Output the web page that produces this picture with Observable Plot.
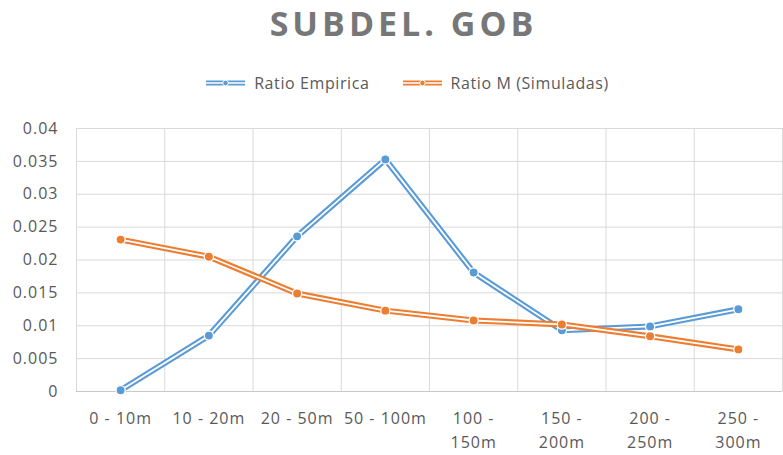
<!DOCTYPE html>
<html>
<head>
<meta charset="utf-8">
<script src="https://cdn.jsdelivr.net/npm/d3@7"></script>
<script src="https://cdn.jsdelivr.net/npm/@observablehq/plot@0.6"></script>
<style>
  body { margin: 0; background: #fff; font-family: "Open Sans", sans-serif; }
  #wrap { position: relative; width: 783px; height: 455px; overflow: hidden; }
  #title { position: absolute; top: 1px; left: 0; width: 783px; padding-left: 24px; box-sizing: border-box; text-align: center;
    font-size: 34px; font-weight: 700; letter-spacing: 4px; color: #777777; line-height: 44px; }
  #legend { position: absolute; top: 71px; left: 0; width: 783px; padding-left: 30px; box-sizing: border-box; display: flex; justify-content: center;
    gap: 31px; font-size: 16px; letter-spacing: 0.6px; color: #595959; line-height: 24px; }
  #legend .item { display: flex; align-items: center; gap: 7px; }
  #chart { position: absolute; top: 110px; left: 0; }
</style>
</head>
<body>
<div id="wrap">
  <div id="title">SUBDEL. GOB</div>
  <div id="legend"></div>
  <div id="chart"></div>
</div>
<script>
const categories = ["0 - 10m", "10 - 20m", "20 - 50m", "50 - 100m", "100 -\n150m", "150 -\n200m", "200 -\n250m", "250 -\n300m"];
const seriesNames = ["Ratio Empirica", "Ratio M (Simuladas)"];
const ratioEmpirica = [0.0002, 0.0085, 0.0236, 0.0353, 0.0181, 0.0093, 0.0099, 0.0125];
const ratioSimuladas = [0.0231, 0.0205, 0.0149, 0.0123, 0.0108, 0.0102, 0.0084, 0.0064];
const yTicks = [0, 0.005, 0.01, 0.015, 0.02, 0.025, 0.03, 0.035, 0.04];
const colors = ["#5B9BD5", "#ED7D31"];

const series = [ratioEmpirica, ratioSimuladas].map((vals, s) =>
  vals.map((v, i) => ({i, v, name: seriesNames[s]})));
const boundaries = d3.range(categories.length + 1).map(i => i - 0.5);

// Legend
const legend = document.getElementById("legend");
seriesNames.forEach((name, s) => {
  const item = document.createElement("div");
  item.className = "item";
  item.innerHTML = `<svg width="43" height="10"><line x1="2" x2="41" y1="5" y2="5" stroke="${colors[s]}" stroke-width="5"/><line x1="2" x2="41" y1="5" y2="5" stroke="#fff" stroke-width="1.6"/><circle cx="21.5" cy="5" r="2.8" fill="${colors[s]}" stroke="#fff" stroke-width="1"/></svg><span>${name}</span>`;
  legend.appendChild(item);
});

const marks = [
  Plot.gridY(yTicks, {stroke: "#d9d9d9", strokeOpacity: 1}),
  Plot.gridX(boundaries, {stroke: "#d9d9d9", strokeOpacity: 1}),
  Plot.ruleY([0], {stroke: "#c8c8c8"}),
  Plot.axisY(yTicks, {tickSize: 0, tickPadding: 18, tickFormat: d3.format("~g"), label: null}),
  Plot.axisX(d3.range(categories.length), {tickSize: 0, tickPadding: 15, tickFormat: i => categories[i], label: null, lineHeight: 1.5})
];
series.forEach((data, s) => {
  marks.push(Plot.line(data, {x: "i", y: "v", stroke: colors[s], strokeWidth: 6}));
  marks.push(Plot.line(data, {x: "i", y: "v", stroke: "#fff", strokeWidth: 1.8}));
  marks.push(Plot.dot(data, {x: "i", y: "v", r: 4.6, fill: colors[s], stroke: "#fff", strokeWidth: 1.3}));
});

const chart = Plot.plot({
  width: 783,
  height: 345,
  marginLeft: 76,
  marginRight: 1,
  marginTop: 18,
  marginBottom: 64,
  style: {fontSize: "16px", letterSpacing: "1px", fontFamily: "Open Sans, sans-serif", color: "#595959", background: "#fff"},
  x: {type: "linear", domain: [-0.5, categories.length - 0.5]},
  y: {domain: [0, 0.04]},
  marks
});
document.getElementById("chart").appendChild(chart);
</script>
</body>
</html>
